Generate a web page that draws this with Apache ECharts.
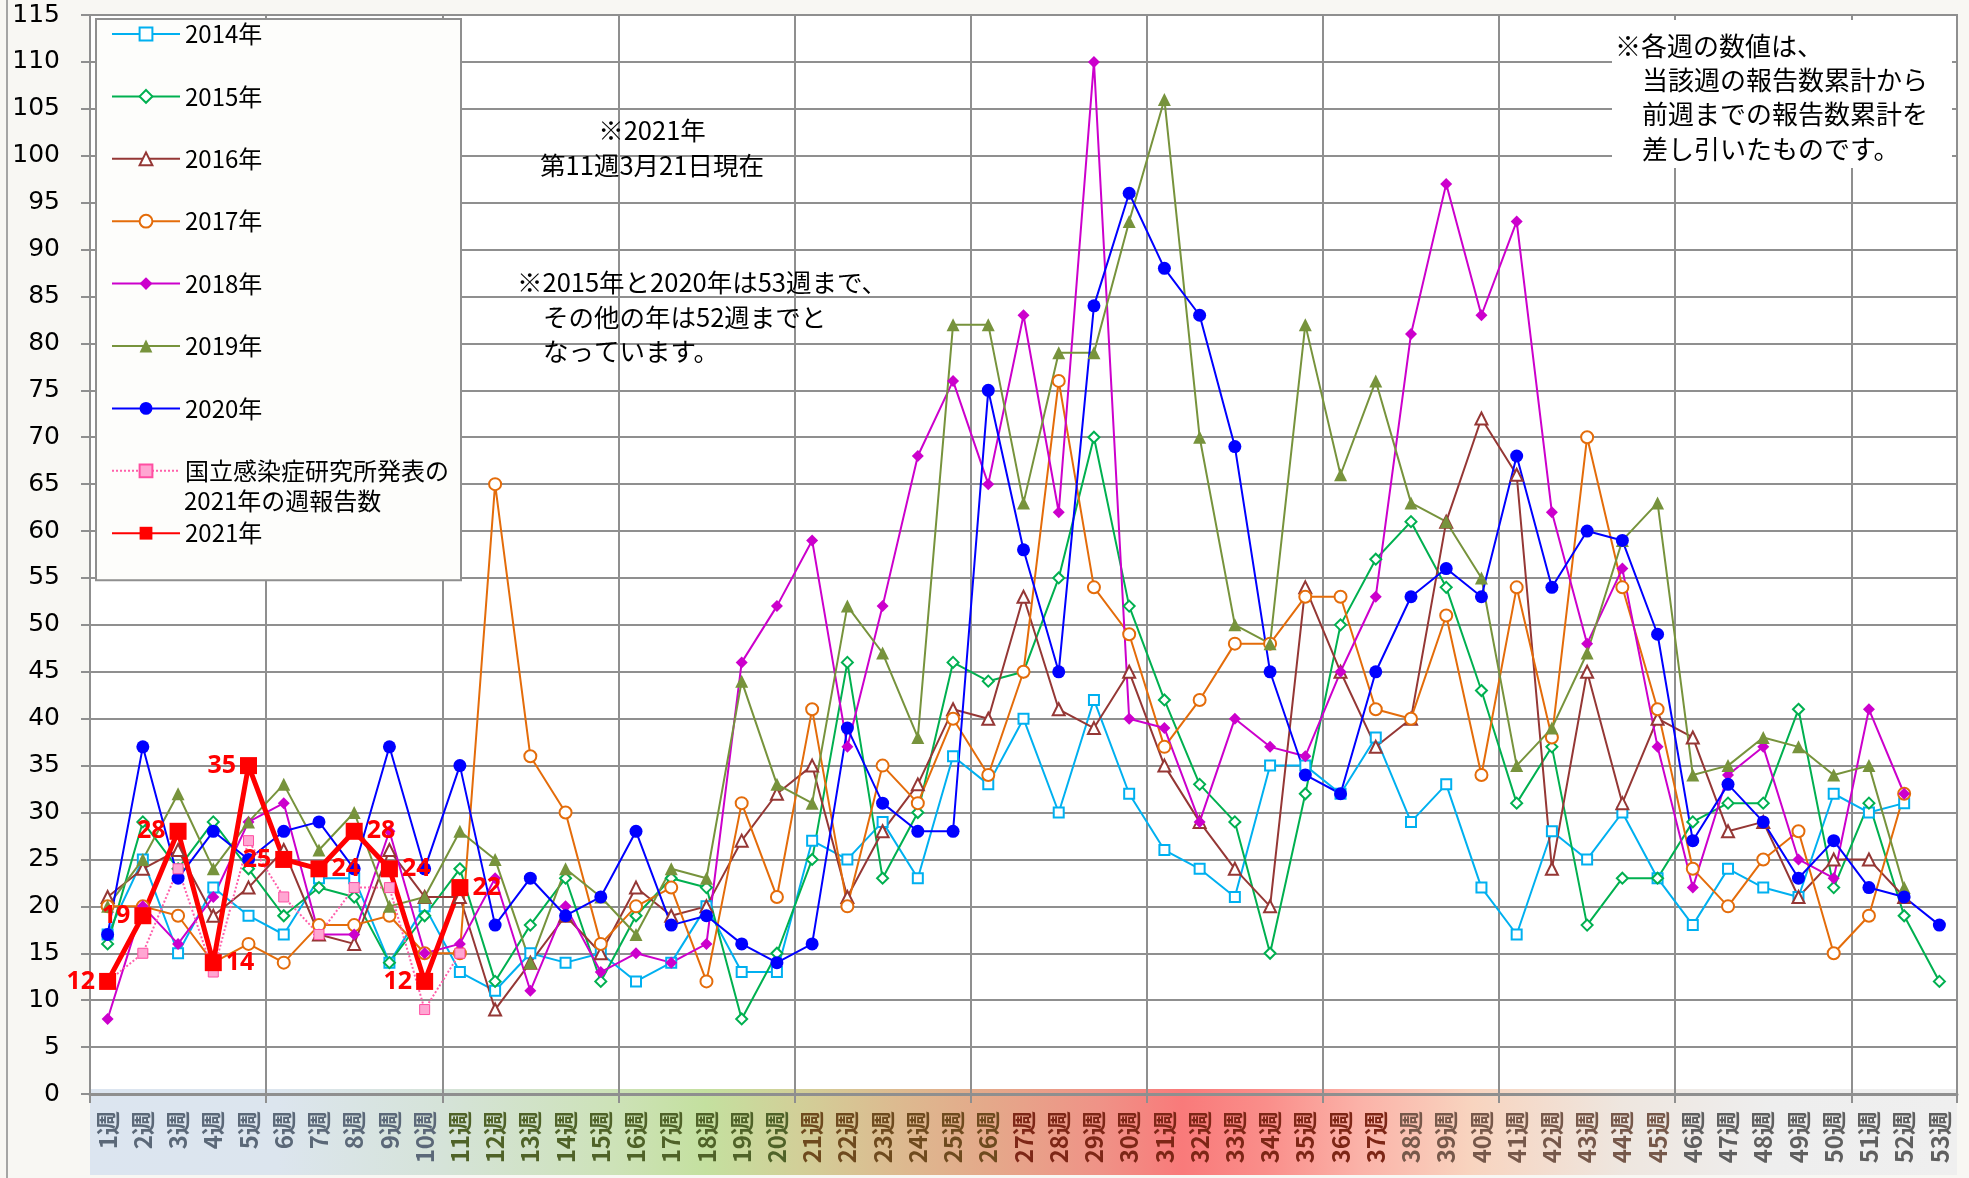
<!DOCTYPE html>
<html>
<head>
<meta charset="utf-8">
<title>週別報告数</title>
<script src="https://cdn.jsdelivr.net/npm/echarts@6/dist/echarts.min.js"></script>
<style>
  html, body { margin: 0; padding: 0; background: #f8f7f3; }
  #main { width: 1969px; height: 1178px; }
</style>
</head>
<body>
<div id="main"></div>
<script>
// categories
var weeks = [];
for (var w = 1; w <= 53; w++) weeks.push(w + '週');

// y axis ticks
var yMin = 0, yMax = 115, yStep = 5;

// weekly counts
var y2014 = [17, 25, 15, 22, 19, 17, 23, 23, 14, 20, 13, 11, 15, 14, 15, 12, 14, 20, 13, 13,
	27, 25, 29, 23, 36, 33, 40, 30, 42, 32, 26, 24, 21, 35, 35, 32, 38, 29, 33, 22,
	17, 28, 25, 30, 23, 18, 24, 22, 21, 32, 30, 31];
var y2015 = [16, 29, 24, 29, 24, 19, 22, 21, 14, 19, 24, 12, 18, 23, 12, 19, 23, 22, 8, 15,
	25, 46, 23, 30, 46, 44, 45, 55, 70, 52, 42, 33, 29, 15, 32, 50, 57, 61, 54, 43,
	31, 37, 18, 23, 23, 29, 31, 31, 41, 22, 31, 19, 12];
var y2016 = [21, 24, 26, 19, 22, 26, 17, 16, 26, 21, 21, 9, 14, 19, 15, 22, 19, 20, 27, 32,
	35, 21, 28, 33, 41, 40, 53, 41, 39, 45, 35, 29, 24, 20, 54, 45, 37, 40, 61, 72,
	66, 24, 45, 31, 40, 38, 28, 29, 21, 25, 25, 21];
var y2017 = [20, 20, 19, 14, 16, 14, 18, 18, 19, 15, 15, 65, 36, 30, 16, 20, 22, 12, 31, 21,
	41, 20, 35, 31, 40, 34, 45, 76, 54, 49, 37, 42, 48, 48, 53, 53, 41, 40, 51, 34,
	54, 38, 70, 54, 41, 24, 20, 25, 28, 15, 19, 32];
var y2018 = [8, 20, 16, 21, 29, 31, 17, 17, 28, 15, 16, 23, 11, 20, 13, 15, 14, 16, 46, 52,
	59, 37, 52, 68, 76, 65, 83, 62, 110, 40, 39, 29, 40, 37, 36, 45, 53, 81, 97, 83,
	93, 62, 48, 56, 37, 22, 34, 37, 25, 23, 41, 32];
var y2019 = [20, 25, 32, 24, 29, 33, 26, 30, 20, 21, 28, 25, 14, 24, 21, 17, 24, 23, 44, 33,
	31, 52, 47, 38, 82, 82, 63, 79, 79, 93, 106, 70, 50, 48, 82, 66, 76, 63, 61, 55,
	35, 39, 47, 59, 63, 34, 35, 38, 37, 34, 35, 22];
var y2020 = [17, 37, 23, 28, 25, 28, 29, 24, 37, 24, 35, 18, 23, 19, 21, 28, 18, 19, 16, 14,
	16, 39, 31, 28, 28, 75, 58, 45, 84, 96, 88, 83, 69, 45, 34, 32, 45, 53, 56, 53,
	68, 54, 60, 59, 49, 27, 33, 29, 23, 27, 22, 21, 18];
var yNiid = [12, 15, 24, 13, 27, 21, 17, 22, 22, 9, 15];
var y2021 = [12, 19, 28, 14, 35, 25, 24, 28, 24, 12, 22];

var NIID = '国立感染症研究所発表の2021年の週報告数';

var chart = echarts.init(document.getElementById('main'));

var GRID = { left: 90, top: 15, right: 12, bottom: 84 };
var plotW = 1969 - GRID.left - GRID.right;
var plotH = 1178 - GRID.top - GRID.bottom;
var gridGrey = '#8f8f8f';
var jp = 'Noto Sans CJK JP';

function lineSeries(name, data, color, symbol, size, filled) {
	return {
		name: name,
		type: 'line',
		data: data,
		symbol: symbol,
		symbolSize: size,
		lineStyle: { color: color, width: 2 },
		itemStyle: {
			color: color,
			borderColor: color,
			borderWidth: filled ? 0 : 2
		}
	};
}

// label side of the 2021 values
var side2021 = ['left', 'left', 'left', 'right', 'left', 'left', 'right', 'right', 'right', 'left', 'right'];

function weekColor(value, index) {
	var n = index + 1;
	if (n <= 10) return '#5b6878';
	if (n <= 20) return '#4f6228';
	if (n <= 26) return '#6e4a1e';
	if (n <= 37) return '#7d2616';
	if (n <= 45) return '#76584a';
	return '#5f5f5f';
}

function everyFifth(index) {
	return index % 5 === 0;
}

var option = {
	backgroundColor: '#f8f7f3',
	animation: false,
	grid: GRID,
	legend: {
		orient: 'vertical',
		left: 96,
		top: 19,
		padding: [0, 12, 32, 15],
		itemGap: 32.4,
		itemWidth: 68,
		itemHeight: 16,
		selectedMode: false,
		backgroundColor: '#fdfdfb',
		borderColor: gridGrey,
		borderWidth: 2,
		z: 6,
		textStyle: {
			fontSize: 24,
			fontFamily: jp,
			color: '#000',
			lineHeight: 30
		},
		formatter: function (name) {
			return name === NIID ? '国立感染症研究所発表の' : name;
		},
		data: ['2014年', '2015年', '2016年', '2017年', '2018年', '2019年', '2020年', NIID, '2021年']
	},
	xAxis: {
		type: 'category',
		data: weeks,
		boundaryGap: true,
		axisLine: { lineStyle: { color: gridGrey, width: 3 } },
		axisTick: {
			show: true,
			interval: everyFifth,
			length: 9,
			lineStyle: { color: gridGrey, width: 2 }
		},
		splitLine: {
			show: true,
			interval: everyFifth,
			lineStyle: { color: gridGrey, width: 2 }
		},
		axisLabel: {
			interval: 0,
			rotate: 90,
			margin: 17,
			fontSize: 24,
			fontWeight: 'bold',
			fontFamily: jp,
			color: weekColor
		}
	},
	yAxis: {
		type: 'value',
		min: yMin,
		max: yMax,
		interval: yStep,
		axisLine: { show: true, lineStyle: { color: gridGrey, width: 2 } },
		axisTick: { show: true, length: 9, lineStyle: { color: gridGrey, width: 2 } },
		splitLine: { show: true, lineStyle: { color: gridGrey, width: 2 } },
		axisLabel: {
			margin: 30,
			fontSize: 25,
			fontFamily: 'DejaVu Sans',
			color: '#000'
		}
	},
	graphic: [
		{
			// plot background
			type: 'rect', z: -2, silent: true,
			shape: { x: GRID.left, y: GRID.top, width: plotW, height: plotH },
			style: { fill: '#ffffff', stroke: gridGrey, lineWidth: 2 }
		},
		{
			// coloured band under the week labels
			type: 'rect', z: -1, silent: true,
			shape: { x: GRID.left, y: GRID.top + plotH - 5, width: plotW, height: 86 },
			style: {
				fill: new echarts.graphic.LinearGradient(0, 0, 1, 0, [
					{ offset: 0.00, color: '#dce5f0' },
					{ offset: 0.10, color: '#dce5ee' },
					{ offset: 0.19, color: '#d5e3d8' },
					{ offset: 0.28, color: '#cde2b8' },
					{ offset: 0.33, color: '#c4e09f' },
					{ offset: 0.38, color: '#d2cf98' },
					{ offset: 0.43, color: '#dcbb90' },
					{ offset: 0.48, color: '#e4a98a' },
					{ offset: 0.54, color: '#ef9387' },
					{ offset: 0.585, color: '#f97a7a' },
					{ offset: 0.63, color: '#fa8e8a' },
					{ offset: 0.68, color: '#fbb2a8' },
					{ offset: 0.74, color: '#f8d4bf' },
					{ offset: 0.82, color: '#eee6df' },
					{ offset: 0.90, color: '#eeeeee' },
					{ offset: 1.00, color: '#efefef' }
				])
			}
		},
		{
			type: 'line', z: -1, silent: true,
			shape: { x1: 7, y1: 0, x2: 7, y2: 1178 },
			style: { stroke: '#8a8a8a', lineWidth: 1.5 }
		},
		{
			type: 'text', z: 3, silent: true,
			style: { x: 652, y: 130, text: '※2021年', font: '25.5px "Noto Sans CJK JP"', fill: '#000', textAlign: 'center', textVerticalAlign: 'middle' }
		},
		{
			type: 'text', z: 3, silent: true,
			style: { x: 652, y: 165, text: '第11週3月21日現在', font: '25.5px "Noto Sans CJK JP"', fill: '#000', textAlign: 'center', textVerticalAlign: 'middle' }
		},
		{
			type: 'text', z: 3, silent: true,
			style: { x: 517, y: 282, text: '※2015年と2020年は53週まで、', font: '25.5px "Noto Sans CJK JP"', fill: '#000', textVerticalAlign: 'middle' }
		},
		{
			type: 'text', z: 3, silent: true,
			style: { x: 543, y: 317, text: 'その他の年は52週までと', font: '25.5px "Noto Sans CJK JP"', fill: '#000', textVerticalAlign: 'middle' }
		},
		{
			type: 'text', z: 3, silent: true,
			style: { x: 543, y: 351, text: 'なっています。', font: '25.5px "Noto Sans CJK JP"', fill: '#000', textVerticalAlign: 'middle' }
		},
		{
			// note box, top right
			type: 'rect', z: 3, silent: true,
			shape: { x: 1612, y: 20, width: 340, height: 148 },
			style: { fill: '#ffffff' }
		},
		{
			type: 'text', z: 4, silent: true,
			style: { x: 1615, y: 46, text: '※各週の数値は、', font: '26px "Noto Sans CJK JP"', fill: '#000', textVerticalAlign: 'middle' }
		},
		{
			type: 'text', z: 4, silent: true,
			style: { x: 1642, y: 80, text: '当該週の報告数累計から', font: '26px "Noto Sans CJK JP"', fill: '#000', textVerticalAlign: 'middle' }
		},
		{
			type: 'text', z: 4, silent: true,
			style: { x: 1642, y: 114, text: '前週までの報告数累計を', font: '26px "Noto Sans CJK JP"', fill: '#000', textVerticalAlign: 'middle' }
		},
		{
			type: 'text', z: 4, silent: true,
			style: { x: 1642, y: 149, text: '差し引いたものです。', font: '26px "Noto Sans CJK JP"', fill: '#000', textVerticalAlign: 'middle' }
		},
		{
			// second line of the NIID legend entry
			type: 'text', z: 10, silent: true,
			style: { x: 184, y: 501, text: '2021年の週報告数', font: '24px "Noto Sans CJK JP"', fill: '#000', textVerticalAlign: 'middle' }
		}
	],
	series: [
		lineSeries('2014年', y2014, '#00b0f0', 'emptyRect', 10, false),
		lineSeries('2015年', y2015, '#00b050', 'emptyDiamond', 11, false),
		lineSeries('2016年', y2016, '#953735', 'emptyTriangle', 12, false),
		lineSeries('2017年', y2017, '#e46c0a', 'emptyCircle', 12, false),
		lineSeries('2018年', y2018, '#cc00cc', 'diamond', 12, true),
		lineSeries('2019年', y2019, '#77933c', 'triangle', 13, true),
		lineSeries('2020年', y2020, '#0000ff', 'circle', 13, true),
		{
			name: NIID,
			type: 'line',
			data: yNiid,
			symbol: 'rect',
			symbolSize: 10,
			lineStyle: { color: '#ff5faa', width: 2, type: 'dotted' },
			itemStyle: { color: '#ffa6d2', borderColor: '#ff4fa2', borderWidth: 1 }
		},
		{
			name: '2021年',
			type: 'line',
			data: y2021.map(function (v, i) {
				return { value: v, label: { position: side2021[i] } };
			}),
			symbol: 'rect',
			symbolSize: 17,
			lineStyle: { color: '#ff0000', width: 5 },
			itemStyle: { color: '#ff0000' },
			label: {
				show: true,
				distance: 4,
				color: '#ff0000',
				fontSize: 25,
				fontWeight: 'bold',
				fontFamily: 'Noto Sans'
			}
		}
	]
};

chart.setOption(option);
</script>
</body>
</html>
